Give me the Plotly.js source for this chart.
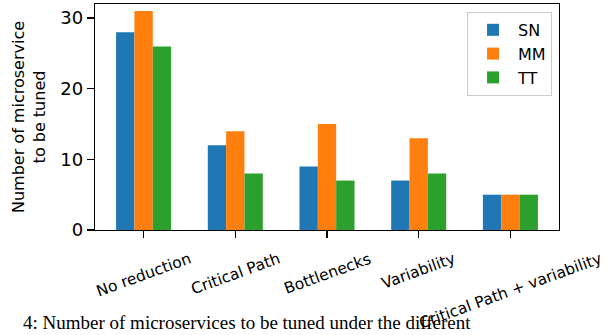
<!DOCTYPE html>
<html>
<head>
<meta charset="utf-8">
<script src="https://cdn.plot.ly/plotly-3.0.1.min.js"></script>
<style>
  html, body { margin: 0; padding: 0; background: #fff; }
  #chart { width: 609px; height: 335px; }
</style>
</head>
<body>
<div id="chart"></div>
<script>
// Reduction strategies on the x axis
const categories = ["No reduction", "Critical Path", "Bottlenecks", "Variability", "Critical Path + variability"];

// Number of microservices to be tuned, per benchmark application
const snValues = [28, 12, 9, 7, 5];
const mmValues = [31, 14, 15, 13, 5];
const ttValues = [26, 8, 7, 8, 5];

const seriesNames = ["SN", "MM", "TT"];
const seriesColors = ["#1f77b4", "#ff7f0e", "#2ca02c"];

const captionText = "4: Number of microservices to be tuned under the different";

const FONT = "DejaVu Sans, sans-serif";

const traces = [snValues, mmValues, ttValues].map((vals, i) => ({
  type: "bar",
  name: seriesNames[i],
  x: categories,
  y: vals,
  marker: { color: seriesColors[i], line: { width: 0 } },
  hoverinfo: "skip"
}));

// Slanted category labels, centred under each tick
const labelAnnotations = categories.map((c, i) => ({
  xref: "x", yref: "paper",
  x: i, y: -0.075,
  xanchor: "center", yanchor: "top",
  text: c,
  textangle: -20,
  showarrow: false,
  font: { family: FONT, size: 15.5, color: "#000" }
}));

// Figure caption line below the chart
const caption = {
  xref: "paper", yref: "paper",
  x: -0.16, y: -0.465,
  xanchor: "left", yanchor: "bottom",
  text: captionText,
  showarrow: false,
  font: { family: "Liberation Serif, Times New Roman, serif", size: 19, color: "#000" }
};

const layout = {
  width: 609,
  height: 335,
  margin: { l: 95, r: 50, t: 4, b: 105, pad: 0 },
  paper_bgcolor: "#fff",
  plot_bgcolor: "#fff",
  barmode: "group",
  bargap: 0.4,
  bargroupgap: 0,
  showlegend: true,
  legend: {
    x: 0.985, y: 0.965,
    xanchor: "right", yanchor: "top",
    bgcolor: "rgba(255,255,255,0.8)",
    bordercolor: "#cccccc",
    borderwidth: 1,
    font: { family: FONT, size: 16, color: "#000" },
    itemwidth: 40
  },
  xaxis: {
    type: "category",
    range: [-0.53, 4.53],
    showticklabels: false,
    ticks: "outside",
    ticklen: 7,
    tickwidth: 1.3,
    tickcolor: "#000",
    showline: true,
    linecolor: "#000",
    linewidth: 1.3,
    mirror: true,
    showgrid: false,
    zeroline: false,
    fixedrange: true
  },
  yaxis: {
    range: [0, 32],
    tickvals: [0, 10, 20, 30],
    ticks: "outside",
    ticklen: 7,
    tickwidth: 1.3,
    tickcolor: "#000",
    tickfont: { family: FONT, size: 18, color: "#000" },
    showline: true,
    linecolor: "#000",
    linewidth: 1.3,
    mirror: true,
    showgrid: false,
    zeroline: false,
    title: {
      text: "Number of microservice<br>to be tuned",
      font: { family: FONT, size: 16, color: "#000" },
      standoff: 10
    },
    fixedrange: true
  },
  annotations: labelAnnotations.concat([caption])
};

Plotly.newPlot("chart", traces, layout, { displayModeBar: false, staticPlot: true });
</script>
</body>
</html>
